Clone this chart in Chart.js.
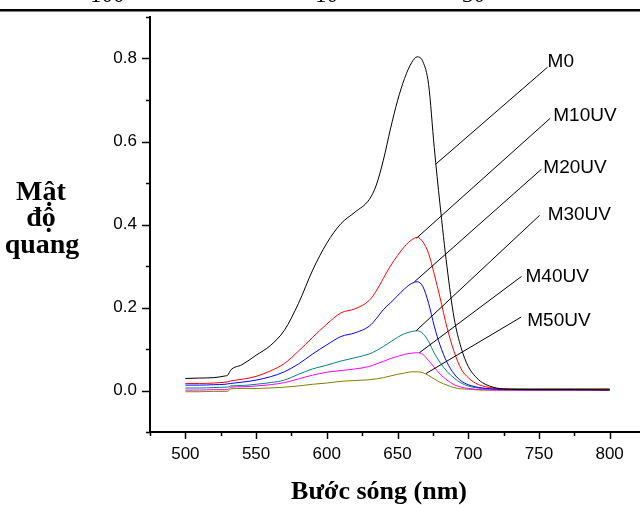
<!DOCTYPE html>
<html>
<head>
<meta charset="utf-8">
<script src="https://cdn.jsdelivr.net/npm/chart.js@4.4.1/dist/chart.umd.min.js"></script>
<style>
  html, body { margin: 0; padding: 0; background: #fff; }
  #wrap { position: relative; width: 640px; height: 505px; overflow: hidden; }
  canvas { display: block; }
</style>
</head>
<body>
<div id="wrap"><canvas id="c" width="660" height="505"></canvas></div>
<script>
// Wavelength grid (nm)
const wavelengths = [500, 510, 520, 528, 530, 532, 540, 550, 560, 570, 580, 590, 600, 610, 620, 630, 635, 640, 645, 650, 655, 660, 664, 668, 672, 676, 680, 685, 690, 695, 700, 705, 710, 720, 730, 750, 775, 800];

// Optical density of each sample
const m0    = [0.029, 0.030, 0.031, 0.035, 0.037, 0.049, 0.062, 0.085, 0.108, 0.145, 0.210, 0.290, 0.355, 0.402, 0.430, 0.460, 0.495, 0.555, 0.630, 0.698, 0.752, 0.790, 0.804, 0.792, 0.737, 0.585, 0.450, 0.298, 0.175, 0.103, 0.058, 0.034, 0.019, 0.006, 0.003, 0.002, 0.002, 0.001];
const m10uv = [0.017, 0.017, 0.018, 0.020, 0.021, 0.023, 0.027, 0.034, 0.047, 0.065, 0.095, 0.128, 0.160, 0.187, 0.197, 0.217, 0.240, 0.270, 0.300, 0.325, 0.347, 0.363, 0.369, 0.358, 0.330, 0.280, 0.225, 0.152, 0.094, 0.052, 0.031, 0.018, 0.011, 0.005, 0.003, 0.003, 0.003, 0.003];
const m20uv = [0.013, 0.013, 0.014, 0.015, 0.016, 0.017, 0.020, 0.025, 0.033, 0.045, 0.064, 0.088, 0.110, 0.130, 0.139, 0.155, 0.173, 0.195, 0.211, 0.228, 0.245, 0.258, 0.262, 0.250, 0.210, 0.155, 0.110, 0.068, 0.040, 0.023, 0.014, 0.009, 0.006, 0.003, 0.002, 0.002, 0.002, 0.002];
const m30uv = [0.006, 0.006, 0.007, 0.008, 0.008, 0.011, 0.012, 0.015, 0.019, 0.025, 0.039, 0.052, 0.061, 0.071, 0.079, 0.088, 0.096, 0.106, 0.117, 0.128, 0.137, 0.142, 0.144, 0.137, 0.118, 0.090, 0.068, 0.046, 0.030, 0.018, 0.011, 0.007, 0.005, 0.004, 0.004, 0.004, 0.004, 0.004];
const m40uv = [0.001, 0.001, 0.002, 0.002, 0.002, 0.008, 0.009, 0.011, 0.014, 0.019, 0.028, 0.037, 0.044, 0.048, 0.052, 0.058, 0.064, 0.070, 0.077, 0.082, 0.087, 0.090, 0.091, 0.087, 0.072, 0.056, 0.040, 0.025, 0.014, 0.008, 0.005, 0.003, 0.002, 0.001, 0.001, 0.001, 0.001, 0.001];
const m50uv = [-0.003, -0.003, -0.002, -0.002, -0.002, 0.004, 0.005, 0.005, 0.006, 0.008, 0.011, 0.015, 0.018, 0.022, 0.024, 0.026, 0.028, 0.031, 0.035, 0.039, 0.042, 0.045, 0.045, 0.043, 0.036, 0.028, 0.020, 0.013, 0.007, 0.004, 0.003, 0.002, 0.001, 0.001, 0.001, 0.001, 0.001, 0.001];

const seriesNames  = ['M0', 'M10UV', 'M20UV', 'M30UV', 'M40UV', 'M50UV'];
const seriesValues = [m0, m10uv, m20uv, m30uv, m40uv, m50uv];
const seriesColors = ['#000000', '#ff0000', '#0000ff', '#008080', '#ff00ff', '#808000'];

// Tick labels
const xTickLabels = [500, 550, 600, 650, 700, 750, 800];
const yTickLabels = [0.0, 0.2, 0.4, 0.6, 0.8];

// Callout lines: start near the name, end on the curve (data coordinates)
const calloutStart = [[756.1, 0.779], [758.0, 0.656], [751.7, 0.533], [750.5, 0.422], [737.7, 0.275], [737.5, 0.177]];
const calloutEnd   = [[676.9, 0.545], [663.4, 0.367], [662.0, 0.262], [663.2, 0.144], [665.5, 0.091], [670.2, 0.041]];
const nameOffset   = [[0, 0], [3, 3], [2, 4], [8, 5], [4, 6], [6, 9]];

const datasets = seriesNames.map((name, k) => ({
  label: name,
  data: wavelengths.map((x, i) => ({ x: x, y: seriesValues[k][i] })),
  borderColor: seriesColors[k],
  borderWidth: 1,
  pointRadius: 0,
  fill: false,
  cubicInterpolationMode: 'monotone'
}));

const decorations = {
  id: 'decorations',
  afterDraw(chart) {
    const ctx = chart.ctx;
    const xs = chart.scales.x, ys = chart.scales.y;
    const area = chart.chartArea;
    ctx.save();
    ctx.strokeStyle = '#000';
    ctx.fillStyle = '#000';

    // tick marks, outward, major longer than minor
    ctx.lineWidth = 1.5;
    ys.ticks.forEach(t => {
      const py = Math.round(ys.getPixelForValue(t.value)) + 0.5;
      const major = Math.round(t.value * 10) % 2 === 0;
      const len = major ? 8 : 4;
      ctx.beginPath();
      ctx.moveTo(area.left - len, py);
      ctx.lineTo(area.left, py);
      ctx.stroke();
    });
    xs.ticks.forEach(t => {
      const px = Math.round(xs.getPixelForValue(t.value)) + 0.5;
      const major = Math.round(t.value) % 50 === 0;
      const len = major ? 7 : 4;
      ctx.beginPath();
      ctx.moveTo(px, area.bottom);
      ctx.lineTo(px, area.bottom + len);
      ctx.stroke();
    });

    // callout lines and series names
    ctx.lineWidth = 1;
    ctx.font = '19px "Liberation Sans", Arial, sans-serif';
    ctx.textAlign = 'left';
    ctx.textBaseline = 'alphabetic';
    seriesNames.forEach((name, k) => {
      const x0 = xs.getPixelForValue(calloutStart[k][0]);
      const y0 = ys.getPixelForValue(calloutStart[k][1]);
      const x1 = xs.getPixelForValue(calloutEnd[k][0]);
      const y1 = ys.getPixelForValue(calloutEnd[k][1]);
      ctx.beginPath();
      ctx.moveTo(x0, y0);
      ctx.lineTo(x1, y1);
      ctx.stroke();
      ctx.fillText(name, x0 + nameOffset[k][0], y0 + nameOffset[k][1]);
    });

    // axis titles
    ctx.textAlign = 'center';
    ctx.font = 'bold 26px "Liberation Serif", "Times New Roman", serif';
    ctx.fillText('Bước sóng (nm)', 379, 499);
    ctx.font = 'bold 28px "Liberation Serif", "Times New Roman", serif';
    ctx.fillText('Mật', 41, 200);
    ctx.fillText('độ', 41, 226);
    ctx.fillText('quang', 42, 253);

    // rule and the foot of the line above
    ctx.lineWidth = 2.5;
    ctx.beginPath();
    ctx.moveTo(0, 10.3);
    ctx.lineTo(660, 10.3);
    ctx.stroke();
    ctx.font = '23px "Liberation Serif", "Times New Roman", serif';
    ctx.textAlign = 'left';
    ctx.fillText('100', 90, 2);
    ctx.fillText('10', 315, 2);
    ctx.fillText('30', 462, 2);
    ctx.restore();
  }
};

new Chart(document.getElementById('c'), {
  type: 'line',
  data: { datasets: datasets },
  options: {
    responsive: false,
    devicePixelRatio: 1,
    animation: false,
    events: [],
    layout: { padding: { left: 0, right: 15, top: 17, bottom: 0 } },
    plugins: { legend: { display: false }, tooltip: { enabled: false } },
    scales: {
      x: {
        type: 'linear',
        min: 475,
        max: 825,
        afterFit: s => { s.height = 73; },
        grid: { display: false, drawTicks: true, tickLength: 8 },
        border: { display: true, color: '#000', width: 2 },
        ticks: {
          stepSize: 25,
          padding: 4,
          maxRotation: 0,
          autoSkip: false,
          color: '#000',
          font: { family: '"Liberation Sans", Arial, sans-serif', size: 17 },
          callback: v => xTickLabels.includes(Math.round(v)) ? String(Math.round(v)) : ''
        }
      },
      y: {
        type: 'linear',
        min: -0.1,
        max: 0.9,
        afterFit: s => { s.width = 150; },
        grid: { display: false, drawTicks: true, tickLength: 8 },
        border: { display: true, color: '#000', width: 2 },
        ticks: {
          stepSize: 0.1,
          padding: 5,
          autoSkip: false,
          color: '#000',
          font: { family: '"Liberation Sans", Arial, sans-serif', size: 17 },
          callback: v => {
            const r = Math.round(v * 10) / 10;
            return yTickLabels.some(t => Math.abs(t - r) < 1e-9) ? r.toFixed(1) : '';
          }
        }
      }
    }
  },
  plugins: [decorations]
});
</script>
</body>
</html>
